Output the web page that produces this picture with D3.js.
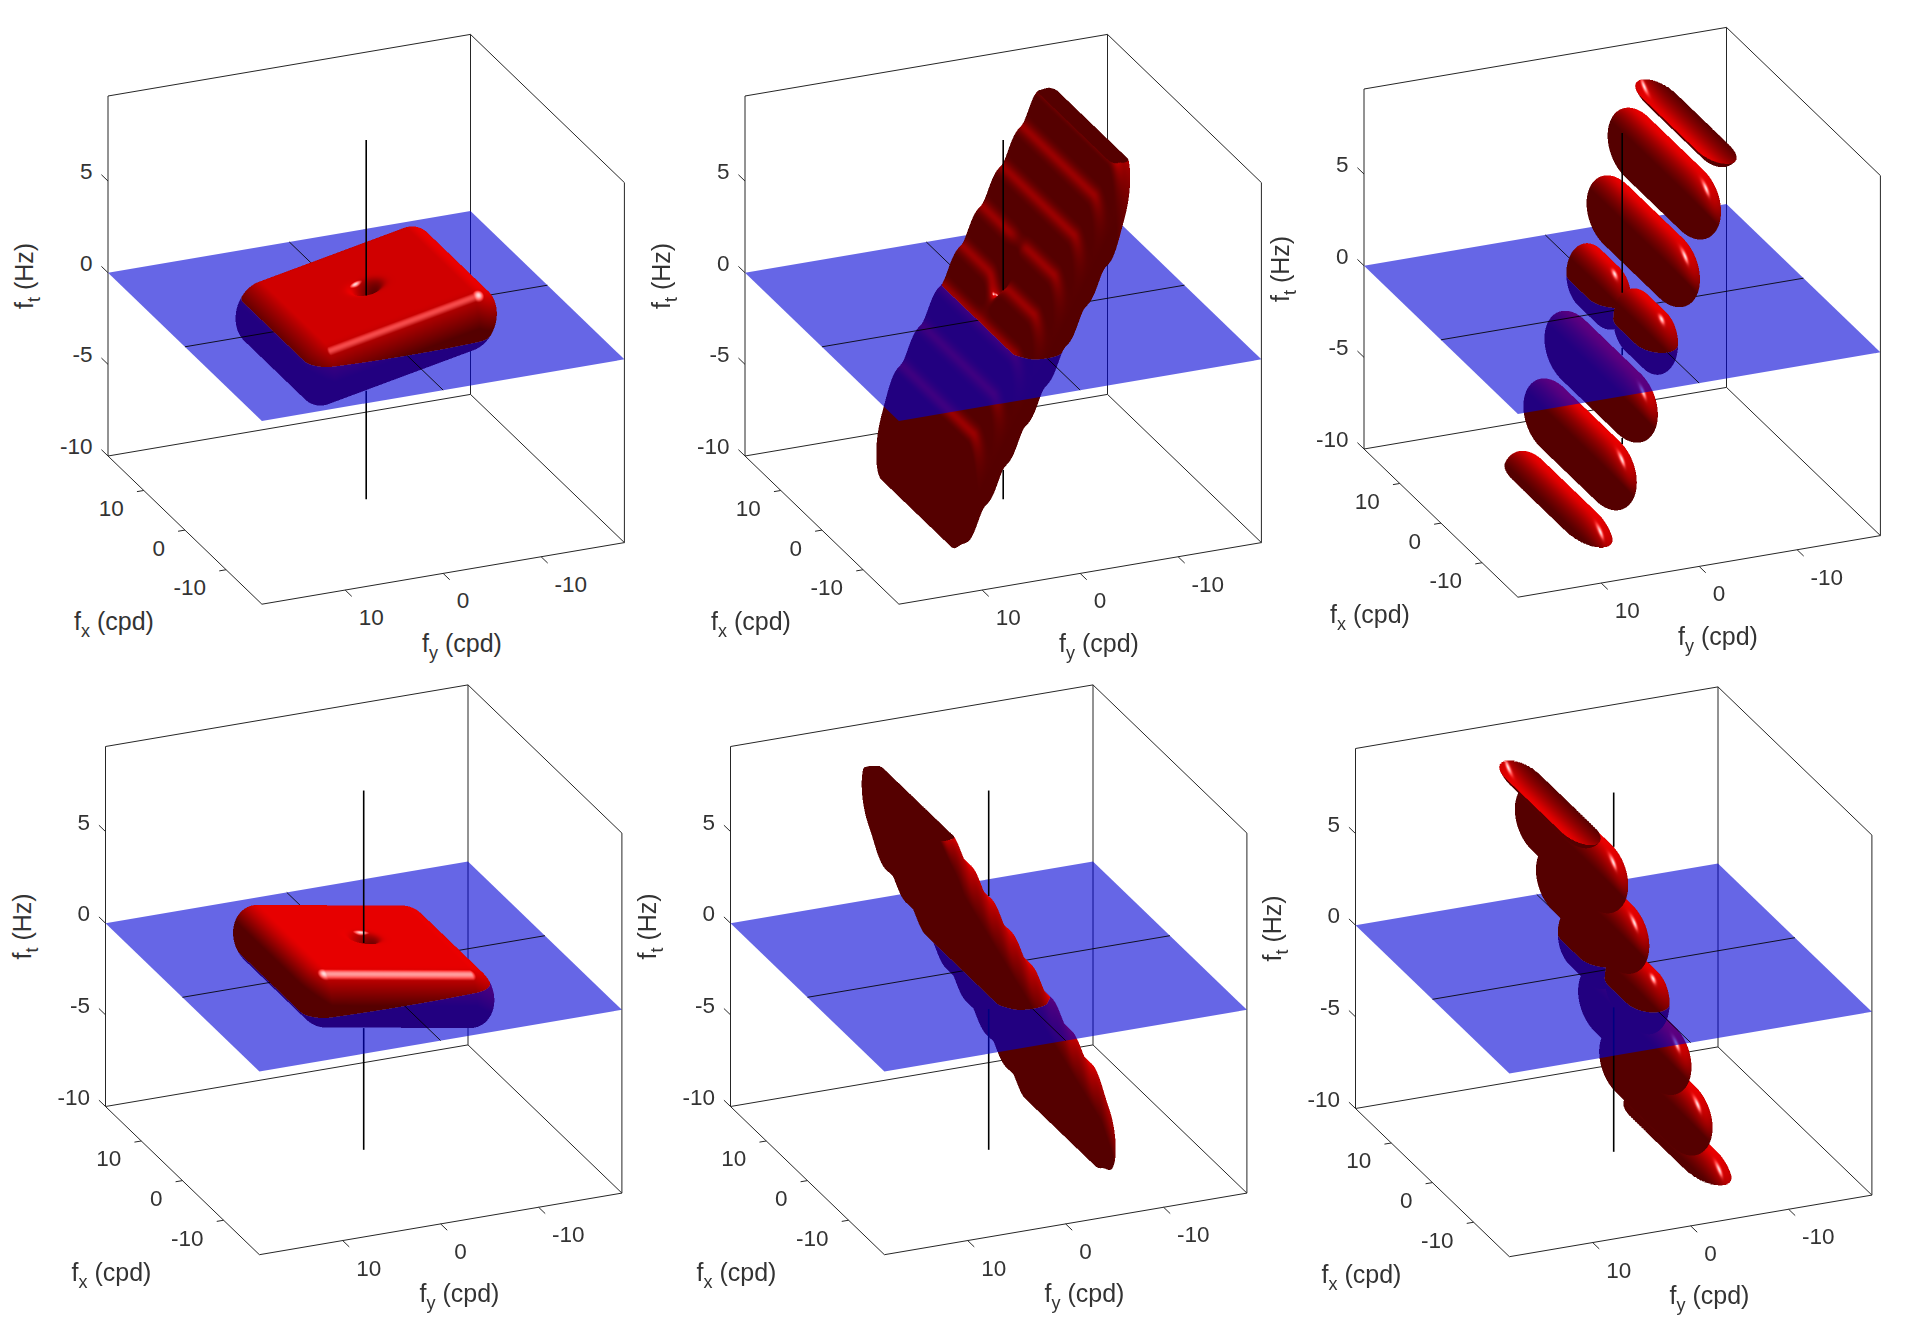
<!DOCTYPE html>
<html>
<head>
<meta charset="utf-8">
<script src="https://cdn.jsdelivr.net/npm/d3@7/dist/d3.min.js"></script>
<style>
html, body { margin: 0; padding: 0; background: #fff; }
svg { display: block; }
text { font-family: "Liberation Sans", Arial, sans-serif; fill: #333; }
</style>
</head>
<body>
<div id="chart"></div>
<script>
// axis values
const fxLim = [18.7, -18.7]
const fyLim = [18.5, -18.5]
const ftLim = [-10, 9.64]
const fxTicks = [10, 0, -10]
const fyTicks = [10, 0, -10]
const ftTicks = [5, 0, -5, -10]

// bottom-left box corner of each panel on the page
const panelCorners = [[108, 456], [745, 456], [1364, 449], [105.5, 1106.5], [730.5, 1106.5], [1355.5, 1108.5]]

// tilt of ft against fy for the four slabs
const slabTilt1 = -0.108
const slabTilt2 = -0.97
const slabTilt4 = 0.093
const slabTilt5 = 0.97

// ripple on the tilted slabs, spacing of the ridges in fy
const ridgePitch = 2.05
const ridgeOffset = 1.02

// separated lobes (panels 3 and 6), the middle one is split at fx = 0
const lobeFt3 = [10.75, 7, 3.5, -3.5, -7, -10.75]
const lobeFy3 = [-6.5, -4.3, -2.15, 2.15, 4.3, 6.5]
const lobeFt6 = [10.75, 7, 3.5, -3.5, -7, -10.75]
const lobeFy6 = [6.5, 4.3, 2.15, -2.15, -4.3, -6.5]
const splitFx = [5.7, -5.7]

// view: px per data unit in the box and the camera frame
const sxy = 10.63, sz = 20.03
const camR = [-0.3871, -0.9220, 0]
const camU = [0.3725, -0.1566, 0.9147]
const camN = [-0.8434, 0.3541, 0.4040]
const light = [0, -0.399, 0.917]
const half = normalize([light[0] + camN[0], light[1] + camN[1], light[2] + camN[2]])

const xToX = d3.scaleLinear().domain(fxLim).range([0, 153.9])
const xToY = d3.scaleLinear().domain(fxLim).range([0, 148.2])
const yToX = d3.scaleLinear().domain(fyLim).range([0, 362.5])
const yToY = d3.scaleLinear().domain(fyLim).range([0, -61.6])
const zToY = d3.scaleLinear().domain(ftLim).range([0, -360])

function normalize(v) {
    const n = Math.hypot(v[0], v[1], v[2]) || 1
    return [v[0] / n, v[1] / n, v[2] / n]
}

function flatSlab(tilt) {
    return { xc: 0, yc: 0, zc: 0, a: 7.4, b: 7.4, rx: 2.6, ry: 2.6, rz: 1.65, k: tilt, pit: 0.7, pitW: 1.0, slab: true, gloss: 35 }
}
function rippleSlab(tilt) {
    return { xc: 0, yc: 0, zc: 0, a: 8.5, b: 7.0, rx: 2.2, ry: 2.2, rz: 2.5, k: tilt, pit: 0.45, pitW: 1.4, rip: 0.07, slab: true, clip: true, gloss: 60 }
}
function lobe(fy, ft) {
    return { xc: 0, yc: fy, zc: ft, a: 6.7, b: 0, rx: 5, ry: 2.1, rz: 1.85, k: 0, clip: true, gloss: 80 }
}
function splitLobe(fx) {
    return { xc: fx, yc: 0, zc: 0, a: 2.2, b: 0, rx: 3.1, ry: 2.0, rz: 1.75, k: 0, gloss: 80 }
}

const panelShapes = [
    [flatSlab(slabTilt1)],
    [rippleSlab(slabTilt2)],
    lobeFy3.map((d, i) => lobe(d, lobeFt3[i])).concat(splitFx.map(splitLobe)),
    [flatSlab(slabTilt4)],
    [rippleSlab(slabTilt5)],
    lobeFy6.map((d, i) => lobe(d, lobeFt6[i])).concat(splitFx.map(splitLobe))
]

function field(l, x, y, z) {
    let X = Math.abs(x - l.xc) - l.a
    X = X > 0 ? X / l.rx : 0
    const dy = y - l.yc
    let Y = Math.abs(dy) - l.b
    Y = Y > 0 ? Y / l.ry : 0
    let rz = l.rz
    if (l.rip) rz *= 1 + l.rip * Math.cos(2 * Math.PI * (Math.abs(y) - ridgeOffset) / ridgePitch)
    if (l.pit) {
        const r2 = x * x + y * y
        if (r2 < 16) rz *= 1 - l.pit * Math.exp(-r2 / l.pitW)
    }
    const Z = (z - l.zc - l.k * dy) / rz
    return X * X + Y * Y + Z * Z - 1
}

function inside(l, x, y, z) {
    if (l.clip && (z > ftLim[1] || z < ftLim[0])) return false
    return field(l, x, y, z) < 0
}

const dx = camN[0] / sxy, dy = camN[1] / sxy, dz = camN[2] / sz

function prepareLobe(l) {
    const u = (x, y, z) => x * sxy * camR[0] + y * sxy * camR[1] + z * sz * camR[2]
    const w = (x, y, z) => x * sxy * camU[0] + y * sxy * camU[1] + z * sz * camU[2]
    const t = (x, y, z) => x * sxy * camN[0] + y * sxy * camN[1] + z * sz * camN[2]
    const ends = [l.xc - l.a, l.xc + l.a]
    l.u1 = u(ends[0], l.yc, l.zc); l.w1 = w(ends[0], l.yc, l.zc); l.t1 = t(ends[0], l.yc, l.zc)
    l.u2 = u(ends[1], l.yc, l.zc); l.w2 = w(ends[1], l.yc, l.zc); l.t2 = t(ends[1], l.yc, l.zc)
    l.rb = Math.max(l.rx * sxy, l.ry * sxy, l.rz * sz) + 1
    let us = [], ws = []
    const xs = [l.xc - l.a - l.rx, l.xc + l.a + l.rx]
    const ys = [l.yc - l.b - l.ry, l.yc + l.b + l.ry]
    xs.forEach(x => ys.forEach(y => [-1.15, 1.15].forEach(s => {
        const z = l.zc + l.k * (y - l.yc) + s * l.rz
        us.push(u(x, y, z)); ws.push(w(x, y, z))
    })))
    l.umin = d3.min(us); l.umax = d3.max(us); l.wmin = d3.min(ws); l.wmax = d3.max(ws)
}

// walk along one ray through one shape, the surface is open where the box cuts it
function marchLobe(l, bx, by, bz, hi, lo, step, best) {
    let prevIn = false, cut = false
    for (let t = hi; t > lo && t > best; t -= step) {
        const x = bx + t * dx, y = by + t * dy, z = bz + t * dz
        const f = field(l, x, y, z)
        if (l.clip && (z > ftLim[1] || z < ftLim[0])) {
            prevIn = f < 0
            continue
        }
        if (f < 0) {
            if (prevIn) { cut = true; prevIn = false }
            if (cut) continue
            return refine(l, bx, by, bz, t, t + step)
        }
        prevIn = false
        if (cut) return refine(l, bx, by, bz, t + step, t)
    }
    return null
}

function refine(l, bx, by, bz, tIn, tOut) {
    for (let k = 0; k < 5; k++) {
        const m = (tIn + tOut) / 2
        if (field(l, bx + m * dx, by + m * dy, bz + m * dz) < 0) tIn = m
        else tOut = m
    }
    return tIn
}

function renderPanel(shape, origin, box) {
    const lower = document.createElement("canvas"), upper = document.createElement("canvas")
    lower.width = upper.width = box.w
    lower.height = upper.height = box.h
    const imgL = new ImageData(box.w, box.h), imgU = new ImageData(box.w, box.h)
    const ss = 2

    for (let py = 0; py < box.h; py++) {
        for (let px = 0; px < box.w; px++) {
            let lr = 0, lg = 0, ln = 0, ur = 0, ug = 0, un = 0
            for (let sy = 0; sy < ss; sy++) {
                for (let sx = 0; sx < ss; sx++) {
                    const U = box.x + px + (sx + 0.5) / ss - origin[0]
                    const W = origin[1] - (box.y + py + (sy + 0.5) / ss)
                    const bx = (U * camR[0] + W * camU[0]) / sxy
                    const by = (U * camR[1] + W * camU[1]) / sxy
                    const bz = (U * camR[2] + W * camU[2]) / sz
                    let best = -1e9, hit = null
                    for (let i = 0; i < shape.length; i++) {
                        const l = shape[i]
                        if (U < l.umin || U > l.umax || W < l.wmin || W > l.wmax) continue
                        let hi, lo, step
                        if (l.slab) {
                            const denom = dz - l.k * dy
                            const tc = (l.k * by - bz) / denom
                            const span = Math.abs(l.rz * 1.3 / denom)
                            hi = Math.min(260, tc + span); lo = Math.max(-260, tc - span); step = 1.5
                        } else {
                            const au = l.u2 - l.u1, aw = l.w2 - l.w1
                            let s = ((U - l.u1) * au + (W - l.w1) * aw) / (au * au + aw * aw)
                            s = s < 0 ? 0 : s > 1 ? 1 : s
                            const du = U - l.u1 - s * au, dw = W - l.w1 - s * aw
                            if (du * du + dw * dw > l.rb * l.rb) continue
                            const tc = l.t1 + s * (l.t2 - l.t1)
                            hi = tc + l.rb * 1.9; lo = tc - l.rb * 1.9; step = 1.5
                        }
                        const t = marchLobe(l, bx, by, bz, hi, lo, step, best)
                        if (t !== null && t > best) { best = t; hit = l }
                    }
                    if (!hit) continue
                    const x = bx + best * dx, y = by + best * dy, z = bz + best * dz
                    const col = shade(hit, x, y, z)
                    if (z >= 0) { ur += col[0]; ug += col[1]; un++ }
                    else { lr += col[0]; lg += col[1]; ln++ }
                }
            }
            const o = (py * box.w + px) * 4
            if (ln) {
                imgL.data[o] = lr / ln; imgL.data[o + 1] = lg / ln; imgL.data[o + 2] = lg / ln
                imgL.data[o + 3] = 255 * ln / (ss * ss)
            }
            if (un) {
                imgU.data[o] = ur / un; imgU.data[o + 1] = ug / un; imgU.data[o + 2] = ug / un
                imgU.data[o + 3] = 255 * un / (ss * ss)
            }
        }
    }
    lower.getContext("2d").putImageData(imgL, 0, 0)
    upper.getContext("2d").putImageData(imgU, 0, 0)
    return { lower, upper }
}

function shade(l, x, y, z) {
    const h = 0.75, hx = h / sxy, hz = h / sz
    let n = normalize([
        field(l, x + hx, y, z) - field(l, x - hx, y, z),
        field(l, x, y + hx, z) - field(l, x, y - hx, z),
        field(l, x, y, z + hz) - field(l, x, y, z - hz)
    ])
    // lit from both sides
    if (n[0] * camN[0] + n[1] * camN[1] + n[2] * camN[2] < 0) n = [-n[0], -n[1], -n[2]]
    const diff = Math.max(0, n[0] * light[0] + n[1] * light[1] + n[2] * light[2])
    const nh = Math.max(0, n[0] * half[0] + n[1] * half[1] + n[2] * half[2])
    const spec = Math.pow(nh, l.gloss)
    // the wide top faces give way to the shine only close to its peak
    const s = l.slab ? Math.max(0, spec - 0.25) * 1.33 : spec
    return [Math.min(255, 85 + 150 * diff + 170 * s), Math.min(255, 220 * s)]
}

function occluded(shape, fx, fy, ft) {
    for (let t = 2; t < 420; t += 2) {
        const x = fx + t * dx, y = fy + t * dy, z = ft + t * dz
        for (let i = 0; i < shape.length; i++) {
            if (inside(shape[i], x, y, z)) return true
        }
    }
    return false
}

const svg = d3.select("#chart").append("svg")
    .attr("width", 1915)
    .attr("height", 1335)
    .attr("viewBox", [0, 0, 1915, 1335])

panelCorners.forEach((corner, i) => drawPanel(panelShapes[i], corner))

function drawPanel(shape, corner) {
    const project = (fx, fy, ft) => [
        corner[0] + xToX(fx) + yToX(fy),
        corner[1] + xToY(fx) + yToY(fy) + zToY(ft)
    ]
    const g = svg.append("g")
    const path = d3.line()

    const line = (pts, width, color, opacity) => g.append("path")
        .attr("d", path(pts))
        .attr("fill", "none")
        .attr("stroke", color || "#262626")
        .attr("stroke-width", width || 1)
        .attr("stroke-opacity", opacity || 1)

    const xa = fxLim[0], xb = fxLim[1], ya = fyLim[0], yb = fyLim[1], za = ftLim[0], zb = ftLim[1]

    // box and axes
    line([project(xa, ya, zb), project(xa, yb, zb), project(xb, yb, zb), project(xb, yb, za), project(xa, yb, za), project(xa, ya, za), project(xa, ya, zb)])
    line([project(xa, yb, zb), project(xa, yb, za)])
    line([project(xa, ya, za), project(xb, ya, za), project(xb, yb, za)])

    ftTicks.forEach(d => {
        line([project(xa, ya, d), project(xa + 1.6, ya, d)])
        const p = project(xa, ya, d)
        g.append("text").attr("x", p[0] - 15.5).attr("y", p[1] - 9.5)
            .attr("text-anchor", "end").attr("dominant-baseline", "central")
            .attr("font-size", 22.5).text(d)
    })
    fxTicks.forEach(d => {
        line([project(d, ya, za), project(d, ya + 0.7, za)])
        const p = project(d, ya, za)
        g.append("text").attr("x", p[0] - 20).attr("y", p[1] + 18)
            .attr("text-anchor", "end").attr("dominant-baseline", "central")
            .attr("font-size", 22.5).text(d)
    })
    fyTicks.forEach(d => {
        line([project(xb, d, za), project(xb - 1.6, d, za)])
        const p = project(xb, d, za)
        g.append("text").attr("x", p[0] + 13.5).attr("y", p[1] + 27.5)
            .attr("text-anchor", "start").attr("dominant-baseline", "central")
            .attr("font-size", 22.5).text(d)
    })

    axisTitle(g, corner[0] - 34, corner[1] + 174, "x", " (cpd)", 0)
    axisTitle(g, corner[0] + 314, corner[1] + 195.5, "y", " (cpd)", 0)
    axisTitle(g, corner[0] - 75, corner[1] - 147, "t", " (Hz)", -90)

    // surface layers
    shape.forEach(prepareLobe)
    const us = shape.map(l => l.umin), ue = shape.map(l => l.umax)
    const ws = shape.map(l => l.wmin), we = shape.map(l => l.wmax)
    const origin = project(0, 0, 0)
    const box = {
        x: Math.floor(origin[0] + d3.min(us)) - 2,
        y: Math.floor(origin[1] - d3.max(we)) - 2,
        w: Math.ceil(d3.max(ue) - d3.min(us)) + 4,
        h: Math.ceil(d3.max(we) - d3.min(ws)) + 4
    }
    const layers = renderPanel(shape, origin, box)

    const addLayer = (canvas) => {
        const fo = g.append("foreignObject")
            .attr("x", box.x).attr("y", box.y)
            .attr("width", box.w).attr("height", box.h)
        fo.node().appendChild(canvas)
        canvas.style.display = "block"
    }

    // the vertical axis through the origin, hidden where the surface is in front
    const samples = d3.range(ftLim[0], ftLim[1], 0.04).map(ft => ({ ft, seen: !occluded(shape, 0, 0, ft) }))
    const zLine = d3.line()
        .defined(d => d.seen)
        .x(d => project(0, 0, d.ft)[0])
        .y(d => project(0, 0, d.ft)[1])
    const addZLine = (part) => g.append("path").datum(part)
        .attr("d", zLine)
        .attr("fill", "none")
        .attr("stroke", "#000")
        .attr("stroke-width", 1.6)

    addLayer(layers.lower)
    addZLine(samples.filter(d => d.ft < 0))

    // fx-fy plane
    g.append("path")
        .attr("d", path([project(xa, ya, 0), project(xa, yb, 0), project(xb, yb, 0), project(xb, ya, 0)]) + "Z")
        .attr("fill", "rgb(0,0,214)")
        .attr("fill-opacity", 0.6)
    line([project(xa, 0, 0), project(xb, 0, 0)], 1, "#000", 0.85)
    line([project(0, ya, 0), project(0, yb, 0)], 1, "#000", 0.85)

    addLayer(layers.upper)
    addZLine(samples.filter(d => d.ft >= 0))
}

function axisTitle(g, x, y, sub, rest, angle) {
    const t = g.append("text")
        .attr("transform", `translate(${x},${y}) rotate(${angle})`)
        .attr("font-size", 25)
    t.append("tspan").text("f")
    t.append("tspan").attr("dy", 7).attr("font-size", 18).text(sub)
    t.append("tspan").attr("dy", -7).style("white-space", "pre").text(rest)
}
</script>
</body>
</html>
